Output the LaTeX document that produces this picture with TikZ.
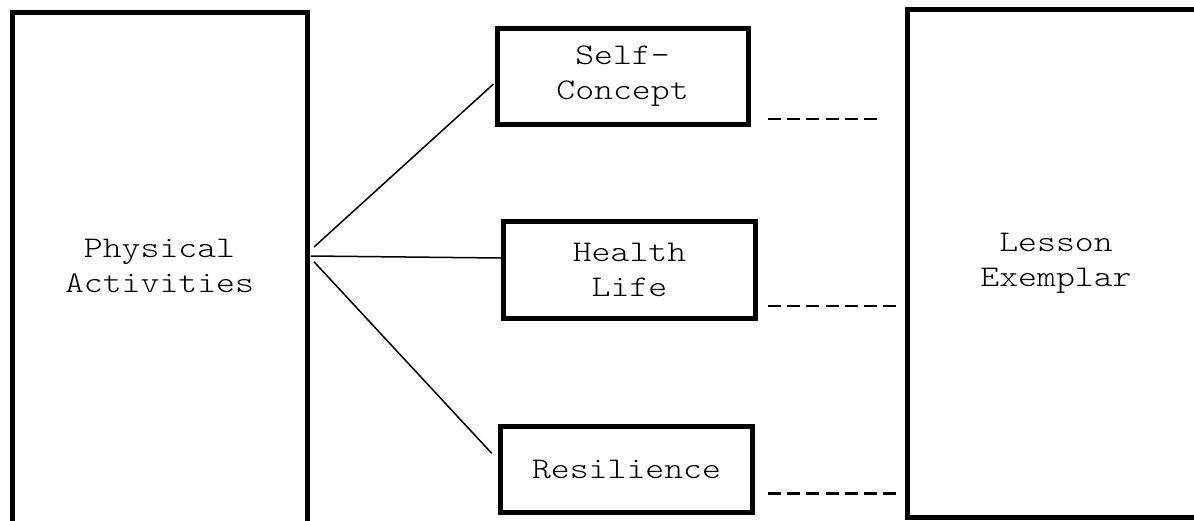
\documentclass[tikz,border=0pt]{standalone}
\usepackage{fontspec}
\newfontfamily\cour[FakeStretch=1.2]{lmmonolt10-regular.otf}
\begin{document}
\begin{tikzpicture}[x=1pt,y=-1pt,
  lbl/.style={font=\cour\fontsize{30}{35}\selectfont, align=center, inner sep=0pt, outer sep=0pt},
  box/.style={lbl, draw, line width=5pt, rectangle},
  link/.style={line width=1.5pt},
  dashline/.style={line width=2.5pt, dash pattern=on 13pt off 6.2pt}]
\useasboundingbox (0,0) rectangle (1194,520);
\clip (0,0) rectangle (1194,520);
% left box (runs off the bottom)
\node[box, minimum width=295pt, minimum height=527.5pt] (pa) at (159.5,276.25) {};
\node[lbl] (pat) at (159.5,265.8) {Physical\\Activities};
% middle boxes
\node[box, minimum width=251pt, minimum height=96pt] (sc) at (622.5,76.5) {Self-\\Concept};
\node[box, minimum width=252pt, minimum height=97pt] (hl) at (629.5,270) {Health\\Life};
\node[box, minimum width=252pt, minimum height=86pt] (rs) at (626.5,469.5) {Resilience};
% right box (runs off the right)
\node[box, minimum width=298pt, minimum height=508pt] (le) at (1056,263.75) {Lesson\\Exemplar};
% connectors
\draw[link] ([shift={(7,-29.25)}]pa.east) -- ([shift={(-3.5,7.5)}]sc.west);
\draw[link] ([shift={(4,-20.25)}]pa.east) -- ([shift={(-2.5,-12)}]hl.west);
\draw[link] ([shift={(7,-14.5)}]pa.east) -- ([shift={(-8.8,-16.2)}]rs.west);
% dashed links
\draw[dashline] ([shift={(20,-5.5)}]sc.south east) -- +(109,0);
\draw[dashline] ([shift={(12.5,-12.5)}]hl.south east) -- +(128.5,0);
\draw[dashline] ([shift={(15.5,-19)}]rs.south east) -- +(128.5,0);
\end{tikzpicture}
\end{document}
